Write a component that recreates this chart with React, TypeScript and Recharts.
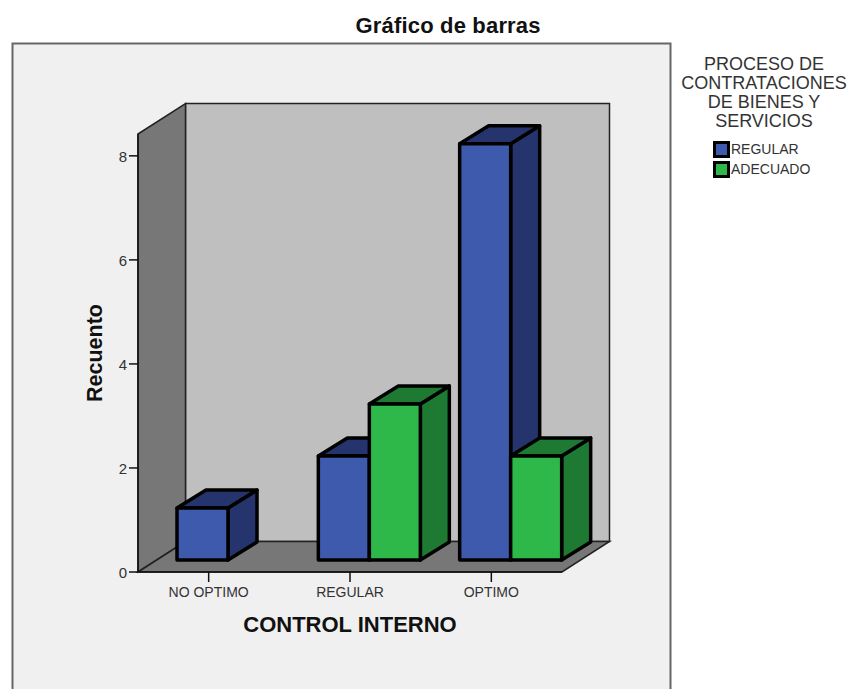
import { BarChart, Bar, XAxis, YAxis, Legend, usePlotArea } from 'recharts';

const categories = ['NO OPTIMO', 'REGULAR', 'OPTIMO'];
const regular = [1, 2, 8];
const adecuado = [null, 3, 2];
const yTicks = [0, 2, 4, 6, 8];
const seriesNames = ['REGULAR', 'ADECUADO'];
const legendTitle = ['PROCESO DE', 'CONTRATACIONES', 'DE BIENES Y', 'SERVICIOS'];

const chartData = categories.map((name, i) => ({
  name,
  REGULAR: regular[i],
  ADECUADO: adecuado[i],
}));

const FONT = '"Liberation Sans", Arial, sans-serif';

// 3D box: front face is pushed back into the room, depth goes up and to the right
const FRONT_DX = 19;
const FRONT_DY = -12;
const DEPTH_DX = 29;
const DEPTH_DY = -18;
const WALL_DX = 47.5;
const WALL_DY = -30.5;

function Box3D({ x, y, width, height, face, shade }: any) {
  if (!height) return null;
  const l = x + FRONT_DX;
  const r = l + width;
  const t = y + FRONT_DY;
  const b = t + height;
  const common = { stroke: '#000', strokeWidth: 3.5, strokeLinejoin: 'round' as const };
  return (
    <g>
      <polygon
        points={`${r},${t} ${r + DEPTH_DX},${t + DEPTH_DY} ${r + DEPTH_DX},${b + DEPTH_DY} ${r},${b}`}
        fill={shade}
        {...common}
      />
      <polygon
        points={`${l},${t} ${l + DEPTH_DX},${t + DEPTH_DY} ${r + DEPTH_DX},${t + DEPTH_DY} ${r},${t}`}
        fill={shade}
        {...common}
      />
      <rect x={l} y={t} width={width} height={height} fill={face} {...common} />
    </g>
  );
}

function Room() {
  const plot = usePlotArea();
  if (!plot) return null;
  const { x, y, width, height } = plot;
  const bottom = y + height;
  const right = x + width;
  const line = { stroke: '#222', strokeWidth: 1.5 };
  return (
    <g>
      <rect x={12.5} y={43.5} width={658} height={660} fill="#f0f0f0" stroke="#666" strokeWidth={2} />
      <text x={448} y={33} textAnchor="middle" fontFamily={FONT} fontWeight="bold" fontSize={22} fill="#111" textLength={185}>
        Gráfico de barras
      </text>
      <polygon
        points={`${x + WALL_DX},${y + WALL_DY} ${right + WALL_DX},${y + WALL_DY} ${right + WALL_DX},${bottom + WALL_DY} ${x + WALL_DX},${bottom + WALL_DY}`}
        fill="#bfbfbf"
        {...line}
      />
      <polygon
        points={`${x},${y} ${x + WALL_DX},${y + WALL_DY} ${x + WALL_DX},${bottom + WALL_DY} ${x},${bottom}`}
        fill="#777"
        {...line}
      />
      <polygon
        points={`${x},${bottom} ${x + WALL_DX},${bottom + WALL_DY} ${right + WALL_DX},${bottom + WALL_DY} ${right},${bottom}`}
        fill="#777"
        {...line}
      />
    </g>
  );
}

function LegendBox({ payload }: any) {
  const items = [...(payload || [])].sort((a: any, b: any) => seriesNames.indexOf(a.value) - seriesNames.indexOf(b.value));
  return (
    <div style={{ width: 170, fontFamily: FONT, textAlign: 'center', color: '#333' }}>
      {legendTitle.map(t => (
        <div key={t} style={{ fontSize: 18, lineHeight: '19px' }}>{t}</div>
      ))}
      <div style={{ marginTop: 8 }}>
        {items.map((p: any) => (
          <div key={p.value} style={{ display: 'flex', alignItems: 'center', height: 20, paddingLeft: 34, fontSize: 14 }}>
            <span style={{ width: 11, height: 11, border: '3px solid #000', background: p.color, marginRight: 1, flex: 'none' }} />
            {p.value}
          </div>
        ))}
      </div>
    </div>
  );
}

export default function App() {
  return (
    <div style={{ position: 'absolute', left: 0, top: 0, width: 851, height: 689, overflow: 'hidden', background: '#fff' }}>
      <BarChart
        width={851}
        height={689}
        data={chartData}
        barSize={51}
        barGap={0}
        margin={{ top: 134, right: 289, bottom: 0, left: 0 }}
      >
        <Room />
        <XAxis
          dataKey="name"
          interval={0}
          height={117}
          tickSize={10}
          tickMargin={5}
          stroke="#111"
          strokeWidth={1.5}
          tick={{ fontSize: 14, fontFamily: FONT, fill: '#333' }}
          label={{ value: 'CONTROL INTERNO', position: 'insideTop', dy: 39, fontSize: 22, fontWeight: 'bold', fontFamily: FONT, fill: '#111' }}
        />
        <YAxis
          width={138}
          domain={[0, 8.42]}
          ticks={yTicks}
          tickSize={9}
          tickMargin={2}
          stroke="#111"
          strokeWidth={1.5}
          tick={{ fontSize: 15, fontFamily: FONT, fill: '#333', dy: 1 }}
          label={{ value: 'Recuento', angle: -90, position: 'insideLeft', textAnchor: 'middle', dx: 89, fontSize: 21.5, fontWeight: 'bold', fontFamily: FONT, fill: '#111' }}
        />
        <Legend
          layout="vertical"
          align="center"
          verticalAlign="middle"
          content={<LegendBox />}
          wrapperStyle={{ left: 679, top: 55, width: 170, bottom: 'auto', right: 'auto' }}
        />
        <Bar dataKey="REGULAR" fill="#3e5aad" isAnimationActive={false} shape={<Box3D face="#3e5aad" shade="#26346d" />} />
        <Bar dataKey="ADECUADO" fill="#2fb84a" isAnimationActive={false} shape={<Box3D face="#2fb84a" shade="#1e7a33" />} />
      </BarChart>
    </div>
  );
}
